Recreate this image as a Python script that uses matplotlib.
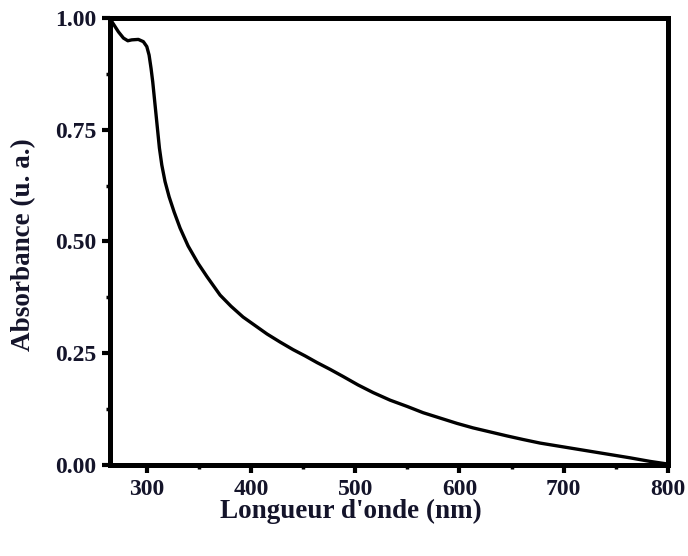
import numpy as np
import matplotlib
matplotlib.use("Agg")
import matplotlib.pyplot as plt
from matplotlib.ticker import MultipleLocator

# absorption spectrum
wavelength = [265, 267.2, 273.0, 277.8, 282.0, 285.8, 292.1, 296.9, 300.2,
              302.4, 304.3, 305.9, 307.5, 309.1, 310.7, 312.3, 314.6, 317.7,
              321.6, 326.4, 332.1, 339.8, 349.4, 358.0, 370.5, 381.0, 392.5,
              404.0, 415.5, 428.0, 440.5, 452.0, 463.5, 475.9, 488.4, 502.8,
              517.2, 533.5, 549.8, 565.1, 581.4, 597.7, 613.0, 629.3, 645.6,
              661.0, 677.3, 706.0, 734.8, 763.6, 782.8, 800]
absorbance = [1.00, 0.990, 0.969, 0.955, 0.949, 0.951, 0.952, 0.947, 0.936,
              0.917, 0.887, 0.857, 0.820, 0.783, 0.746, 0.709, 0.671, 0.634,
              0.600, 0.566, 0.530, 0.490, 0.451, 0.421, 0.380, 0.355, 0.331,
              0.312, 0.293, 0.275, 0.258, 0.244, 0.229, 0.214, 0.198, 0.179,
              0.162, 0.145, 0.131, 0.117, 0.105, 0.093, 0.083, 0.074, 0.065,
              0.057, 0.049, 0.038, 0.027, 0.016, 0.008, 0.002]

x_ticks = [300, 400, 500, 600, 700, 800]
y_ticks = [0.00, 0.25, 0.50, 0.75, 1.00]

plt.rcParams['font.family'] = ['Liberation Serif', 'DejaVu Serif']
plt.rcParams['font.weight'] = 'bold'

fig = plt.figure(figsize=(6.88, 5.56), dpi=100)
ax = fig.add_axes([0.16, 0.1637, 0.811, 0.804])

ax.plot(wavelength, absorbance, color='black', lw=2.4,
        solid_joinstyle='round', solid_capstyle='round')

ax.set_xlim(265, 800)
ax.set_ylim(0, 1.0)
ax.set_xticks(x_ticks)
ax.set_yticks(y_ticks)
ax.set_yticklabels([f"{v:.2f}" for v in y_ticks])
ax.xaxis.set_minor_locator(MultipleLocator(50))
ax.yaxis.set_minor_locator(MultipleLocator(0.125))

for s in ax.spines.values():
    s.set_linewidth(3.6)
    s.set_color('black')

lab_col = '#14142a'
ax.tick_params(which='major', direction='out', length=6, width=3,
               labelsize=17, colors='black', labelcolor=lab_col, pad=4)
ax.tick_params(which='minor', direction='out', length=3, width=2.5,
               colors='black')
ax.tick_params(top=False, right=False, which='both')
for t in ax.get_xticklabels() + ax.get_yticklabels():
    t.set_fontweight('bold')

ax.set_xlabel("Longueur d'onde (nm)", fontsize=19.5, fontweight='bold',
              color=lab_col)
ax.set_ylabel("Absorbance (u. a.)", fontsize=19.5, fontweight='bold',
              color=lab_col)
# labels sit a little off-centre in the original
ax.xaxis.set_label_coords(0.432, -0.076)
ax.yaxis.set_label_coords(-0.133, 0.492)

fig.savefig("out.png", dpi=100)
